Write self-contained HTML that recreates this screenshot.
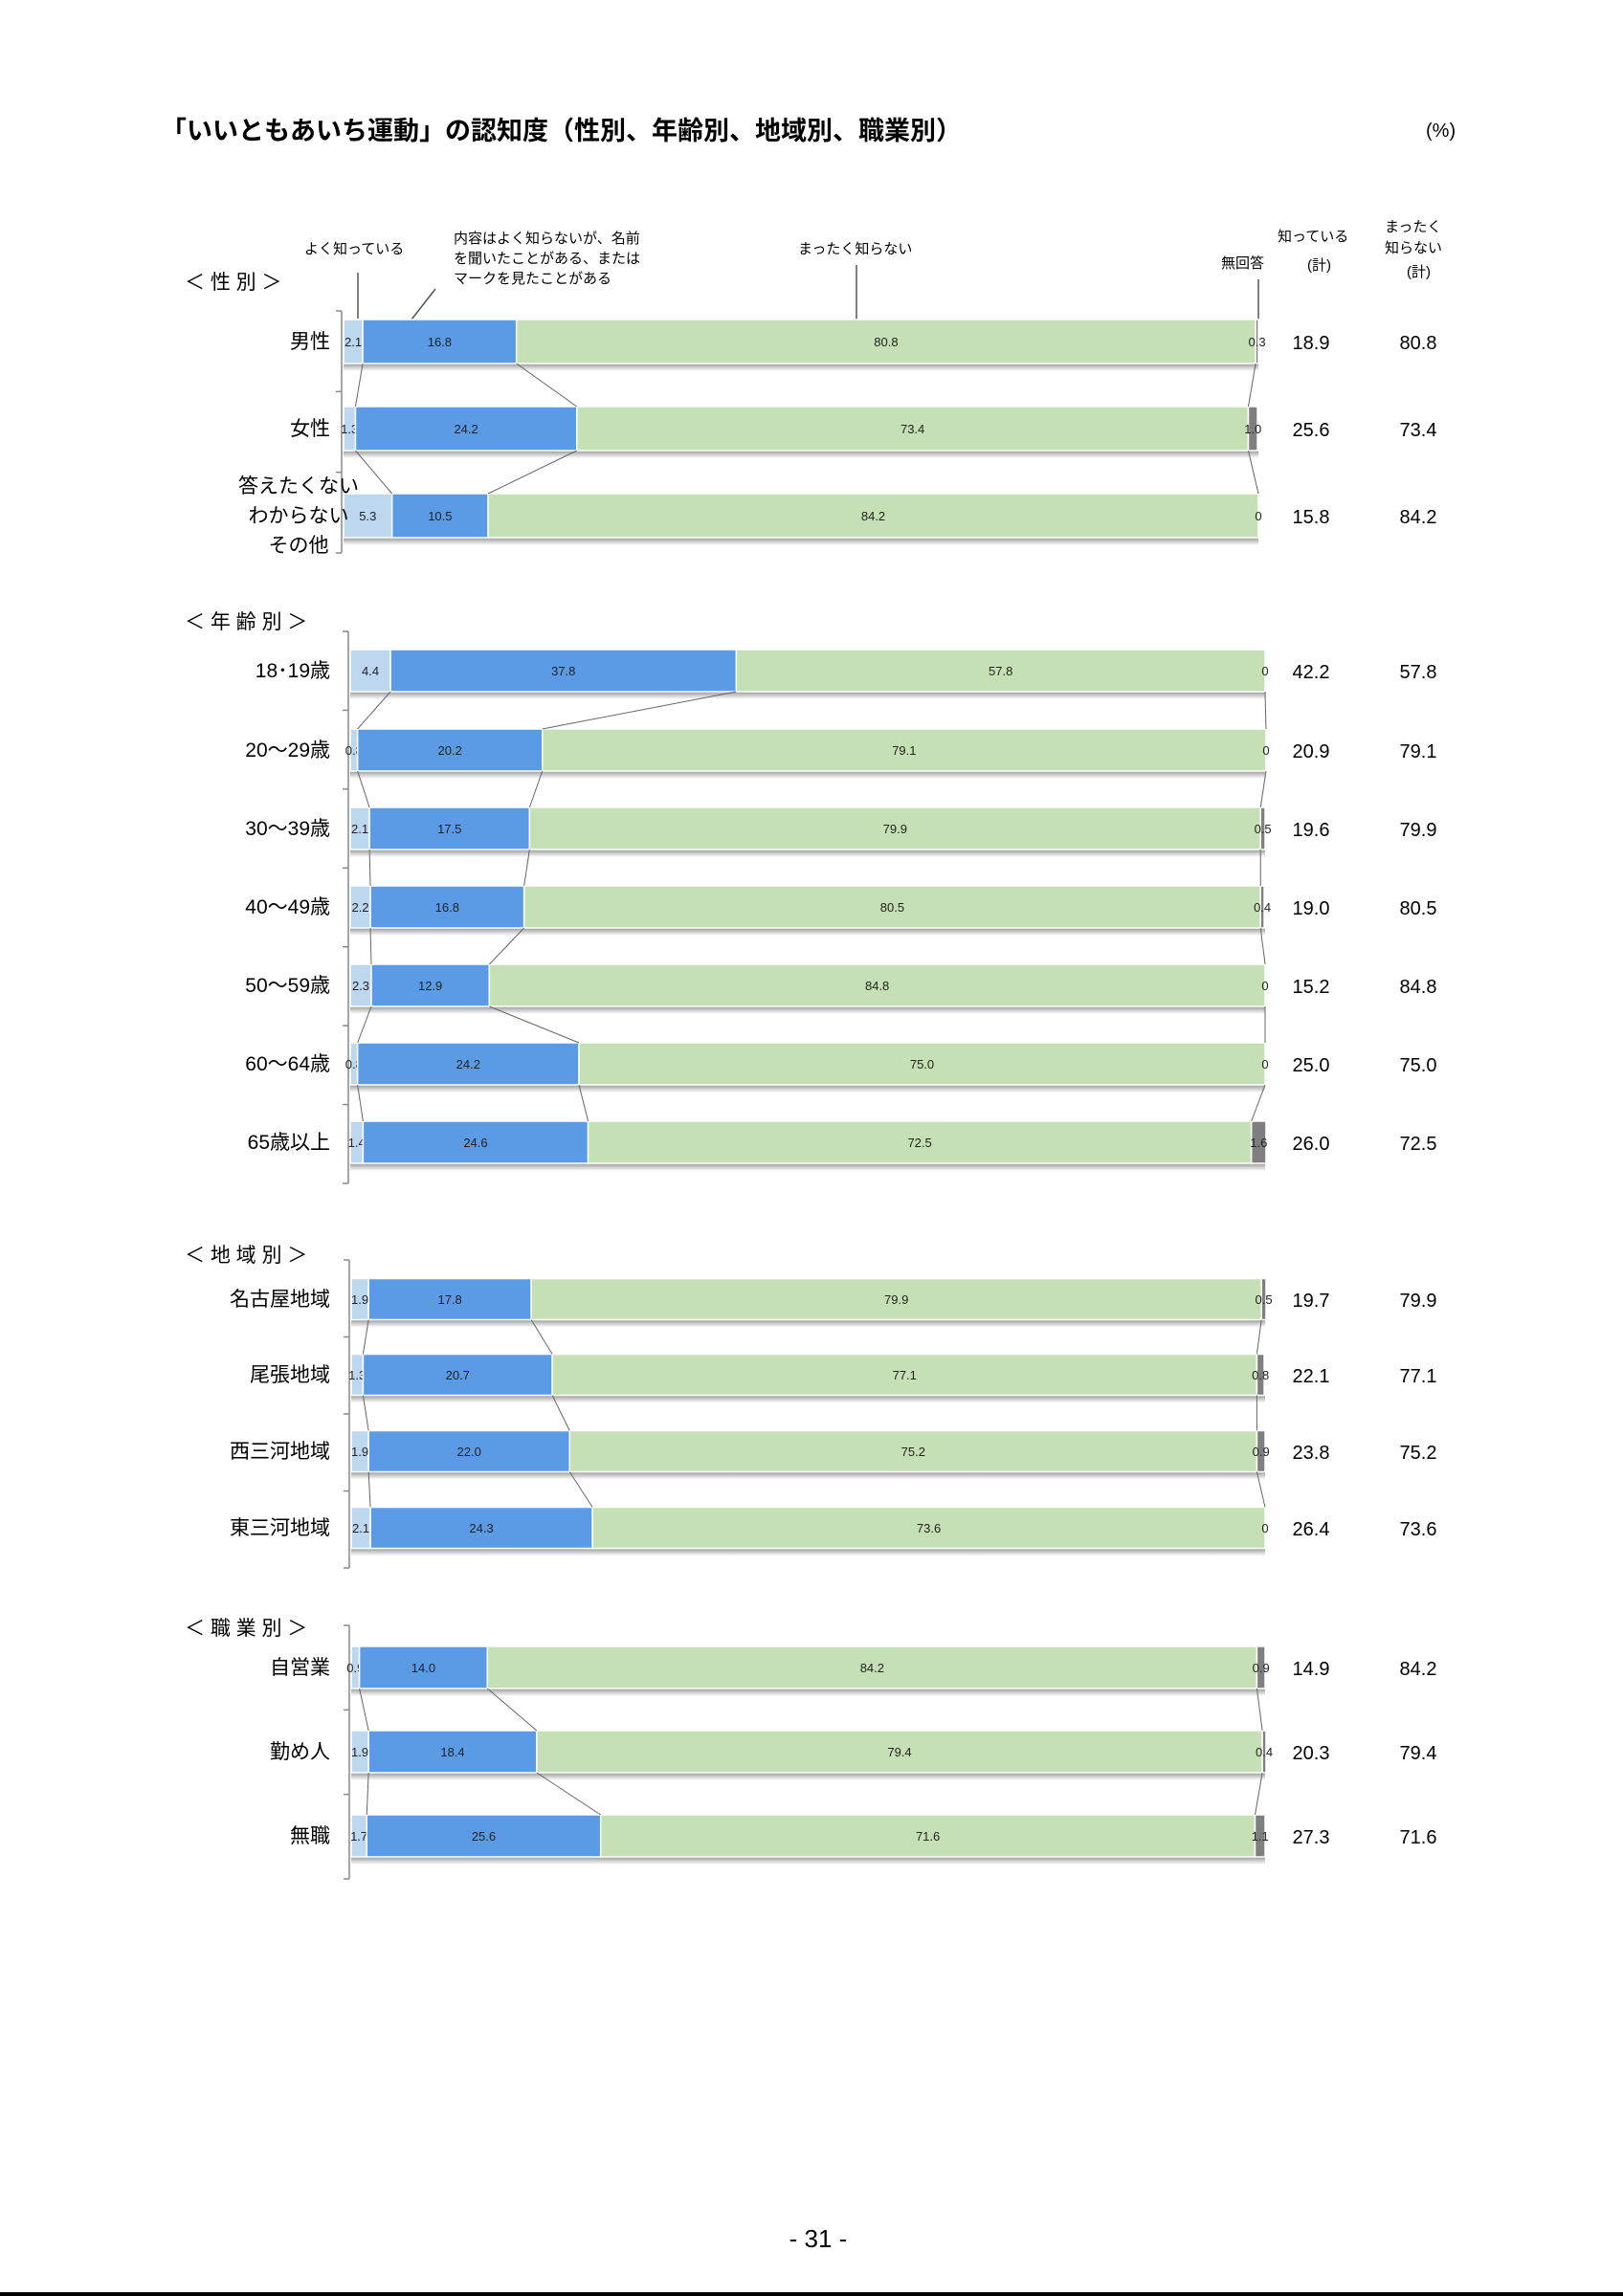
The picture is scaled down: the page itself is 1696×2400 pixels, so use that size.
<!DOCTYPE html>
<html lang="ja"><head><meta charset="utf-8">
<style>
html,body{margin:0;padding:0;background:#fff;}
body{width:1696px;height:2400px;position:relative;overflow:hidden;font-family:"Liberation Sans","Noto Sans CJK JP",sans-serif;}
svg{position:absolute;left:0;top:0;}
</style></head>
<body>
<svg id="chart" width="1696" height="2400" viewBox="0 0 1696 2400" xmlns="http://www.w3.org/2000/svg" font-family="Liberation Sans, Noto Sans CJK JP, sans-serif">
<defs>
<linearGradient id="sh" x1="0" y1="0" x2="0" y2="1"><stop offset="0" stop-color="#9a9a9a"/><stop offset="1" stop-color="#ffffff"/></linearGradient>
</defs>
<text x="168" y="146" font-size="27" font-weight="bold" fill="#000">「いいともあいち運動」の認知度（性別、年齢別、地域別、職業別）</text>
<text x="1490" y="143" font-size="20" fill="#000">(%)</text>
<g font-size="15" fill="#000">
<text x="318" y="265">よく知っている</text>
<text x="474" y="254">内容はよく知らないが、名前</text>
<text x="474" y="275">を聞いたことがある、または</text>
<text x="474" y="296">マークを見たことがある</text>
<text x="834" y="265">まったく知らない</text>
<text x="1276" y="280">無回答</text>
<text x="1335" y="252">知っている</text>
<text x="1366" y="282">(計)</text>
<text x="1447" y="242">まったく</text>
<text x="1447" y="264">知らない</text>
<text x="1470" y="289">(計)</text>
<line x1="374" y1="285" x2="374" y2="333" stroke="#555" stroke-width="1.5"/>
<line x1="455" y1="302" x2="430" y2="334" stroke="#555" stroke-width="1.5"/>
<line x1="895" y1="277" x2="895" y2="334" stroke="#555" stroke-width="1.5"/>
<line x1="1315" y1="292" x2="1315" y2="334" stroke="#555" stroke-width="1.5"/>
</g>
<g id="bars"></g>
<text x="855" y="2349" font-size="26" text-anchor="middle" fill="#000">- 31 -</text>
<rect x="0" y="2396" width="1696" height="4" fill="#000"/>
</svg>
<script>
// Data (percent): well-known, heard-name, not-known, no-answer, known total, not-known total
const sexLabels = ["男性","女性","答えたくない\nわからない\nその他"];
const sexWell = [2.1,1.3,5.3];
const sexHeard = [16.8,24.2,10.5];
const sexNot = [80.8,73.4,84.2];
const sexNA = [0.3,1.0,0];
const sexKnownTotal = ["18.9","25.6","15.8"];
const sexNotTotal = ["80.8","73.4","84.2"];

const ageLabels = ["18･19歳","20～29歳","30～39歳","40～49歳","50～59歳","60～64歳","65歳以上"];
const ageWell = [4.4,0.8,2.1,2.2,2.3,0.8,1.4];
const ageHeard = [37.8,20.2,17.5,16.8,12.9,24.2,24.6];
const ageNot = [57.8,79.1,79.9,80.5,84.8,75.0,72.5];
const ageNA = [0,0,0.5,0.4,0,0,1.6];
const ageKnownTotal = ["42.2","20.9","19.6","19.0","15.2","25.0","26.0"];
const ageNotTotal = ["57.8","79.1","79.9","80.5","84.8","75.0","72.5"];

const regLabels = ["名古屋地域","尾張地域","西三河地域","東三河地域"];
const regWell = [1.9,1.3,1.9,2.1];
const regHeard = [17.8,20.7,22.0,24.3];
const regNot = [79.9,77.1,75.2,73.6];
const regNA = [0.5,0.8,0.9,0];
const regKnownTotal = ["19.7","22.1","23.8","26.4"];
const regNotTotal = ["79.9","77.1","75.2","73.6"];

const jobLabels = ["自営業","勤め人","無職"];
const jobWell = [0.9,1.9,1.7];
const jobHeard = [14.0,18.4,25.6];
const jobNot = [84.2,79.4,71.6];
const jobNA = [0.9,0.4,1.1];
const jobKnownTotal = ["14.9","20.3","27.3"];
const jobNotTotal = ["84.2","79.4","71.6"];

const NS = "http://www.w3.org/2000/svg";
const root = document.getElementById("bars");
function mk(tag, attrs, parent){
  const e = document.createElementNS(NS, tag);
  for (const k in attrs) e.setAttribute(k, attrs[k]);
  (parent||root).appendChild(e);
  return e;
}
const colors = ["#bdd7ee","#5b9be6","#c5e0b4","#7f7f7f"];
const segNames = ["well-known","heard-name","not-known","no-answer"];

function section(key, title, titleY, labels, well, heard, notk, na, kt, nt, x0, x1, ys, bh, axTop, axBot){
  const g = mk("g", {});
  
  
  const xs = v => x0 + v/100*(x1-x0);
  const t = mk("text", {x:193, y:titleY, "font-size":21, fill:"#000"}, g);
  t.textContent = title;
  
  
  const ax = mk("line", {x1:x0-2, y1:axTop, x2:x0-2, y2:axBot, stroke:"#888", "stroke-width":1.5}, g);
  
  
  const step = (axBot-axTop)/labels.length;
  for (let i=0;i<=labels.length;i++){
    mk("line", {x1:x0-8, y1:axTop+i*step, x2:x0-2, y2:axTop+i*step, stroke:"#888", "stroke-width":1.5}, g);
  }
  const bounds = [];
  labels.forEach((lab,i)=>{
    const vals = [well[i],heard[i],notk[i],na[i]];
    const cy = ys[i], top = cy - bh/2;
    const rg = mk("g", {}, g);
    
    
    const sh = mk("rect", {x:x0, y:top+bh, width:x1-x0, height:8, fill:"url(#sh)"}, rg);
    
    
    let acc = 0; const b = [];
    vals.forEach((v,j)=>{
      const a = xs(acc), e = xs(acc+v);
      const r = mk("rect", {x:a, y:top, width:Math.max(e-a,0), height:bh, fill:colors[j], stroke:"#fff", "stroke-width":1.5}, rg);
      
      
      const tx = (j===3) ? Math.min((a+e)/2, x1+2) : (a+e)/2;
      const vt = mk("text", {x:tx, y:cy+5, "font-size":13, "text-anchor":"middle", fill:"#222"}, rg);
      vt.textContent = (v===0) ? "0" : v.toFixed(1);
      
      
      acc += v; b.push(e);
    });
    bounds.push({top:top, bot:top+bh, b:[xs(well[i]), xs(well[i]+heard[i]), xs(well[i]+heard[i]+notk[i])]});
    const lines = lab.split("\n");
    lines.forEach((ln,k)=>{
      const lt = mk("text", {x:lines.length>1?312:345, y:cy+7+(k-(lines.length-1)/2)*31, "font-size":21, "text-anchor":lines.length>1?"middle":"end", fill:"#000"}, rg);
      lt.textContent = ln;
      
      
    });
    const k1 = mk("text", {x:1370, y:cy+8, "font-size":20, "text-anchor":"middle", fill:"#000"}, rg);
    k1.textContent = kt[i];
    
    
    const k2 = mk("text", {x:1482, y:cy+8, "font-size":20, "text-anchor":"middle", fill:"#000"}, rg);
    k2.textContent = nt[i];
    
    
  });
  for (let i=0;i<bounds.length-1;i++){
    for (let j=0;j<3;j++){
      const ln = mk("line", {x1:bounds[i].b[j], y1:bounds[i].bot, x2:bounds[i+1].b[j], y2:bounds[i+1].top, stroke:"#666", "stroke-width":1}, g);
      
      
    }
  }
}
section("sex","＜ 性 別 ＞",302,sexLabels,sexWell,sexHeard,sexNot,sexNA,sexKnownTotal,sexNotTotal,359,1315,[357,448,539],46,325,578);
section("age","＜ 年 齢 別 ＞",657,ageLabels,ageWell,ageHeard,ageNot,ageNA,ageKnownTotal,ageNotTotal,366,1322,[701,784,866,948,1030,1112,1194],44,660,1237);
section("region","＜ 地 域 別 ＞",1319,regLabels,regWell,regHeard,regNot,regNA,regKnownTotal,regNotTotal,367,1322,[1358,1437,1517,1597],43,1317,1639);
section("job","＜ 職 業 別 ＞",1709,jobLabels,jobWell,jobHeard,jobNot,jobNA,jobKnownTotal,jobNotTotal,367,1322,[1743,1831,1919],44,1699,1964);
</script>
</body></html>
